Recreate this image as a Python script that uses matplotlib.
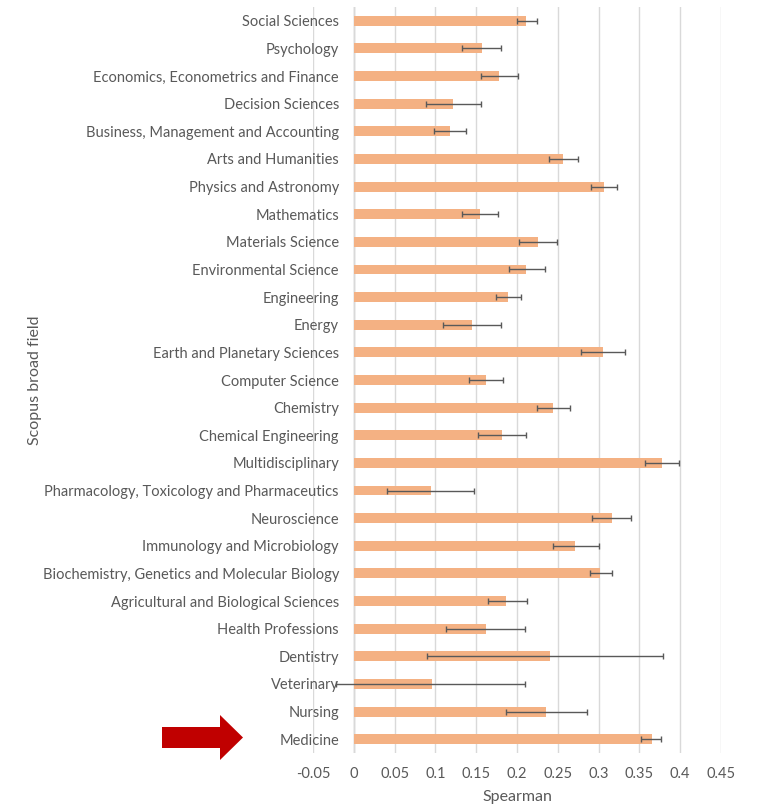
import matplotlib.pyplot as plt
import matplotlib.patches as mpatches
import numpy as np

# --- data (Spearman, with lower / upper error limits) ---
fields = [
    "Social Sciences", "Psychology", "Economics, Econometrics and Finance",
    "Decision Sciences", "Business, Management and Accounting", "Arts and Humanities",
    "Physics and Astronomy", "Mathematics", "Materials Science", "Environmental Science",
    "Engineering", "Energy", "Earth and Planetary Sciences", "Computer Science",
    "Chemistry", "Chemical Engineering", "Multidisciplinary",
    "Pharmacology, Toxicology and Pharmaceutics", "Neuroscience",
    "Immunology and Microbiology", "Biochemistry, Genetics and Molecular Biology",
    "Agricultural and Biological Sciences", "Health Professions", "Dentistry",
    "Veterinary", "Nursing", "Medicine",
]
spearman = [0.211, 0.157, 0.178, 0.122, 0.118, 0.256, 0.307, 0.155, 0.226, 0.211,
            0.189, 0.145, 0.306, 0.162, 0.244, 0.182, 0.378, 0.094, 0.316, 0.271,
            0.302, 0.187, 0.162, 0.240, 0.096, 0.236, 0.365]
ci_low = [0.200, 0.133, 0.156, 0.088, 0.098, 0.239, 0.291, 0.132, 0.203, 0.190,
          0.174, 0.109, 0.278, 0.141, 0.225, 0.152, 0.357, 0.041, 0.292, 0.244,
          0.290, 0.164, 0.113, 0.090, -0.022, 0.187, 0.352]
ci_high = [0.225, 0.181, 0.201, 0.156, 0.138, 0.275, 0.323, 0.177, 0.249, 0.234,
           0.205, 0.181, 0.332, 0.183, 0.265, 0.211, 0.398, 0.147, 0.340, 0.300,
           0.316, 0.212, 0.210, 0.379, 0.210, 0.286, 0.377]
x_ticks = [-0.05, 0, 0.05, 0.1, 0.15, 0.2, 0.25, 0.3, 0.35, 0.4, 0.45]
x_ticklabels = ["-0.05", "0", "0.05", "0.1", "0.15", "0.2", "0.25", "0.3", "0.35", "0.4", "0.45"]

plt.rcParams['font.family'] = ['Lato', 'DejaVu Sans']
text_col = "#595959"

W, H = 761, 807
fig = plt.figure(figsize=(W / 100, H / 100), dpi=100)
ax = fig.add_axes([313 / W, (H - 753) / H, (721 - 313) / W, (753 - 7) / H])

y = np.arange(len(fields))
vals = np.array(spearman)
err = [vals - np.array(ci_low), np.array(ci_high) - vals]

ax.barh(y, vals, height=0.36, color="#F4B183", zorder=2)
ax.errorbar(vals, y, xerr=err, fmt="none", ecolor="#595959", elinewidth=1,
            capsize=2.5, capthick=1, zorder=3)

ax.set_xlim(-0.05, 0.45)
ax.set_ylim(len(fields) - 0.5, -0.5)
ax.set_xticks(x_ticks)
ax.set_xticklabels(x_ticklabels)
ax.set_yticks(y)
ax.set_yticklabels(fields)
ax.grid(axis="x", color="#D9D9D9", linewidth=1, zorder=0)
ax.axvline(0, color="#BFBFBF", linewidth=1, zorder=1)
for s in ax.spines.values():
    s.set_visible(False)
ax.tick_params(length=0, labelsize=10.5, colors=text_col)
ax.tick_params(axis="y", pad=-18.7)
ax.tick_params(axis="x", pad=10)
for lab in ax.get_yticklabels():
    lab.set_zorder(4)

# axis titles
fig.text(517 / W, 1 - 797 / H, "Spearman", ha="center", va="center",
         fontsize=11.5, color=text_col)
fig.text(35 / W, 1 - 380 / H, "Scopus broad field", rotation=90, ha="center",
         va="center", fontsize=11.5, color=text_col)

# red arrow pointing to Medicine
def px(xp, yp):
    return (xp / W, 1 - yp / H)

arrow_pts = [px(162, 727), px(220, 727), px(220, 715), px(243, 737.5),
             px(220, 760), px(220, 748), px(162, 748)]
fig.add_artist(mpatches.Polygon(arrow_pts, closed=True, facecolor="#C00000",
                                edgecolor="none", transform=fig.transFigure))

fig.savefig("out.png", dpi=100)
